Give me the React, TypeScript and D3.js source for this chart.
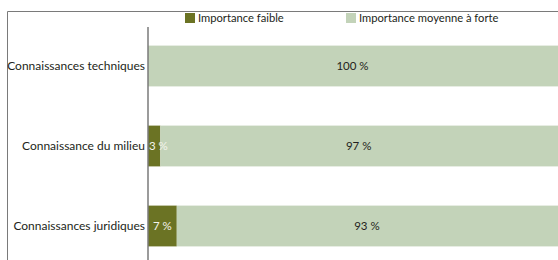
import React from "react";
import * as d3 from "d3";

const CATEGORIES = ["Connaissances techniques", "Connaissance du milieu", "Connaissances juridiques"];
const FAIBLE = [0, 3, 7];
const MOYENNE_FORTE = [100, 97, 93];
const SERIES = ["Importance faible", "Importance moyenne à forte"];
const COLORS = ["#6b7324", "#c3d3b9"];

const WIDTH = 558;
const HEIGHT = 260;
const AXIS_X = 148;
const FONT = "Lato, 'Noto Sans', sans-serif";

const X_SCALE = d3.scaleLinear().domain([0, 100]).range([AXIS_X, 559]);
const Y_SCALE = d3.scaleBand().domain(CATEGORIES).range([26, 266]).paddingInner(0.49).paddingOuter(0.245);

export default function App() {
  const bw = Y_SCALE.bandwidth();
  return (
    <svg
      width={WIDTH}
      height={HEIGHT}
      style={{ position: "absolute", left: 0, top: 0 }}
      fontFamily={FONT}
    >
      <rect width={WIDTH} height={HEIGHT} fill="#fff" />
      {/* frame */}
      <line x1={7.5} x2={WIDTH} y1={11.5} y2={11.5} stroke="#7a7a7a" strokeWidth={1} />
      <line x1={7.5} x2={7.5} y1={11.5} y2={HEIGHT} stroke="#7a7a7a" strokeWidth={1} />

      {/* legend */}
      {SERIES.map((s, i) => {
        const lx = i === 0 ? 185 : 346;
        return (
          <g key={s}>
            <rect x={lx} y={13} width={10} height={10} fill={COLORS[i]} />
            <text x={lx + 13} y={21.5} fontSize={11.2} fill="#231f20">
              {s}
            </text>
          </g>
        );
      })}

      {CATEGORIES.map((c, i) => {
        const y = Y_SCALE(c) as number;
        const x0 = X_SCALE(0);
        const x1 = X_SCALE(FAIBLE[i]);
        const x2 = X_SCALE(FAIBLE[i] + MOYENNE_FORTE[i]);
        const cy = y + bw / 2;
        return (
          <g key={c}>
            {FAIBLE[i] > 0 && (
              <rect x={x0} y={y} width={x1 - x0} height={bw} fill={COLORS[0]} />
            )}
            <rect x={x1} y={y} width={x2 - x1} height={bw} fill={COLORS[1]} />
            {FAIBLE[i] > 0 && (
              <text
                x={FAIBLE[i] < 5 ? x0 + 1 : (x0 + x1) / 2}
                y={cy + 4}
                fontSize={11.5}
                fill="#f4f4ec"
                textAnchor={FAIBLE[i] < 5 ? "start" : "middle"}
              >
                {FAIBLE[i]} %
              </text>
            )}
            <text x={(x1 + X_SCALE(100)) / 2 - 1} y={cy + 4} fontSize={11.5} fill="#231f20" textAnchor="middle">
              {MOYENNE_FORTE[i]} %
            </text>
            <text x={AXIS_X - 3} y={cy + 4} fontSize={12} fill="#231f20" textAnchor="end">
              {c}
            </text>
          </g>
        );
      })}

      {/* category axis */}
      <line x1={AXIS_X} x2={AXIS_X} y1={27} y2={HEIGHT} stroke="#7a7a7a" strokeWidth={1.5} />
    </svg>
  );
}
